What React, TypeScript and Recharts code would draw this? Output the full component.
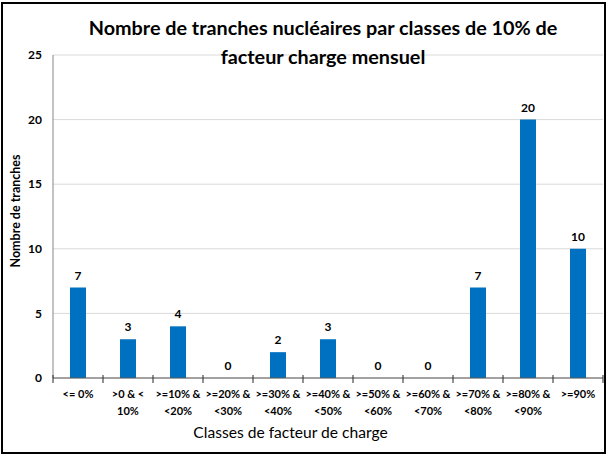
import { ComposedChart, Bar, Line, XAxis, YAxis, CartesianGrid, LabelList } from 'recharts'

const categories = [
  ['<= 0%'],
  ['>0 & <', '10%'],
  ['>=10% &', '<20%'],
  ['>=20% &', '<30%'],
  ['>=30% &', '<40%'],
  ['>=40% &', '<50%'],
  ['>=50% &', '<60%'],
  ['>=60% &', '<70%'],
  ['>=70% &', '<80%'],
  ['>=80% &', '<90%'],
  ['>=90%'],
]
const tranches = [7, 3, 4, 0, 2, 3, 0, 0, 7, 20, 10]
const yTicks = [0, 5, 10, 15, 20, 25]

const data = categories.map((lines, i) => ({ label: lines.join(' '), value: tranches[i] }))

const W = 607
const H = 455
const LEFT = 53
const RIGHT = 4
const FONT = 'Lato, "Open Sans", sans-serif'
const band = (W - LEFT - RIGHT) / categories.length

function XTick(props: any) {
  const { x, y, index } = props
  const lines = categories[index] || []
  const left = x - band / 2
  return (
    <g>
      <line x1={left} y1={y - 3} x2={left} y2={y + 5} stroke="#262626" />
      {index === categories.length - 1 && (
        <line x1={x + band / 2} y1={y - 3} x2={x + band / 2} y2={y + 5} stroke="#262626" />
      )}
      {lines.map((t: string, k: number) => (
        <text
          key={k}
          x={x}
          y={y + 20 + k * 17}
          textAnchor="middle"
          fontSize={11}
          fontWeight="bold"
          fontFamily={FONT}
          fill="#000"
        >
          {t}
        </text>
      ))}
    </g>
  )
}

export default function App() {
  return (
    <div style={{ position: 'absolute', left: 0, top: 0, width: W, height: H, background: '#fff' }}>
      <ComposedChart
        width={W}
        height={H}
        data={data}
        margin={{ top: 55, right: RIGHT, bottom: 0, left: 0 }}
        barSize={16}
      >
        <CartesianGrid stroke="#d9d9d9" vertical={false} />
        <XAxis
          dataKey="label"
          height={77}
          interval={0}
          axisLine={{ stroke: '#595959' }}
          tickLine={false}
          tickSize={0}
          tickMargin={0}
          tick={<XTick />}
        />
        <YAxis
          width={LEFT}
          domain={[0, 25]}
          ticks={yTicks}
          axisLine={{ stroke: '#868686' }}
          tickLine={false}
          tickMargin={5}
          tick={{ fill: '#000', fontSize: 12, fontWeight: 'bold', fontFamily: FONT }}
        />
        <Bar dataKey="value" fill="#0070c0" isAnimationActive={false} />
        <Line
          dataKey="value"
          stroke="none"
          dot={false}
          activeDot={false}
          isAnimationActive={false}
        >
          <LabelList
            dataKey="value"
            position="top"
            offset={8}
            fill="#000"
            fontSize={12}
            fontWeight="bold"
            fontFamily={FONT}
          />
        </Line>
      </ComposedChart>
      <div
        style={{
          position: 'absolute',
          left: 0,
          width: 646,
          top: 13,
          textAlign: 'center',
          fontFamily: FONT,
          fontWeight: 'bold',
          fontSize: 19.8,
          lineHeight: '29px',
          color: '#000',
          whiteSpace: 'nowrap',
        }}
      >
        Nombre de tranches nucléaires par classes de 10% de
        <br />
        facteur charge mensuel
      </div>
      <div
        style={{
          position: 'absolute',
          left: 190,
          width: 201,
          top: 423,
          textAlign: 'center',
          fontFamily: FONT,
          fontSize: 15.6,
          color: '#000',
          whiteSpace: 'nowrap',
        }}
      >
        Classes de facteur de charge
      </div>
      <div
        style={{
          position: 'absolute',
          left: 15,
          top: 211,
          transform: 'translate(-50%, -50%) rotate(-90deg)',
          fontFamily: FONT,
          fontSize: 12.5,
          fontWeight: 'bold',
          color: '#000',
          whiteSpace: 'nowrap',
        }}
      >
        Nombre de tranches
      </div>
      <div
        style={{
          position: 'absolute',
          left: 1,
          top: 2,
          width: 605,
          height: 452,
          boxSizing: 'border-box',
          border: '2px solid #000',
          pointerEvents: 'none',
        }}
      />
    </div>
  )
}
